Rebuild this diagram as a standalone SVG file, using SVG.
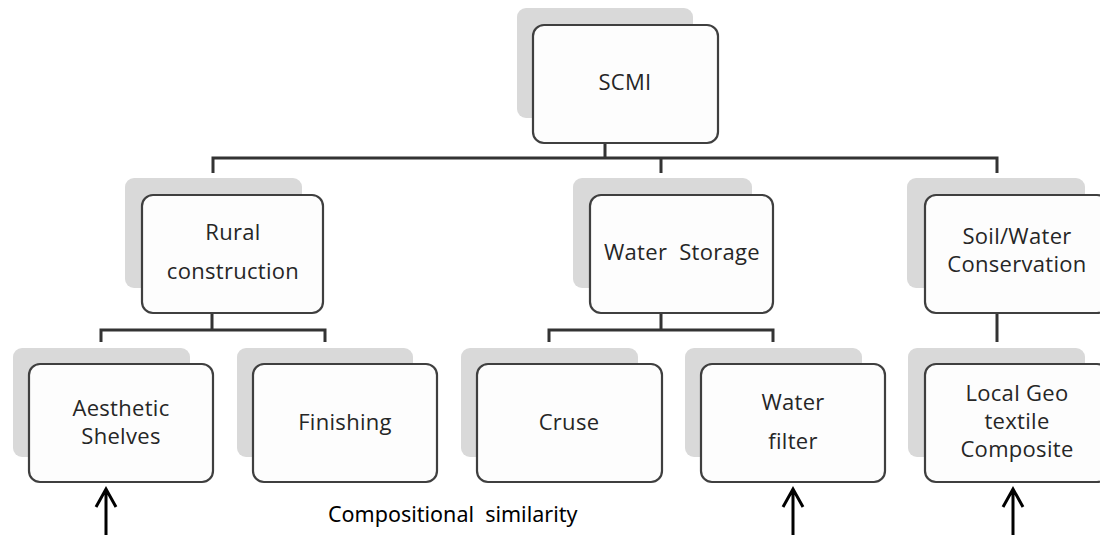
<svg xmlns="http://www.w3.org/2000/svg" width="1100" height="535" viewBox="0 0 1100 535">
<style>
.sh{fill:#d9d9d9}
.bx{fill:#fdfdfd;stroke:#3f3f3f;stroke-width:2.2}
.t{font-family:"Open Sans","Liberation Sans",sans-serif;font-size:22px;fill:#262626;text-anchor:middle;letter-spacing:0.3px}
.c{fill:none;stroke:#333;stroke-width:3}
.a{fill:none;stroke:#000;stroke-width:3}
.lbl{font-family:"Noto Sans","Liberation Sans",sans-serif;font-size:21.5px;fill:#000}
</style>
<rect width="1100" height="535" fill="#fff"/>
<g id="connectors">
<path class="c" d="M605 143V158M213 173V158H997V173M661 158V173"/>
<path class="c" d="M212 313V330M101 342V330H325V342"/>
<path class="c" d="M661 313V330M549 342V330H773V342"/>
<path class="c" d="M997 313V342"/>
</g>
<g id="scmi"><rect class="sh" x="517" y="8" width="176" height="110" rx="9"/><rect class="bx" x="533" y="25" width="185" height="118" rx="11"/><text class="t" x="625" y="90">SCMI</text></g>
<g id="rural"><rect class="sh" x="125" y="178" width="177" height="110" rx="9"/><rect class="bx" x="142" y="195" width="181" height="118" rx="11"/><text class="t" x="233" y="240">Rural</text><text class="t" x="233" y="279">construction</text></g>
<g id="water-storage"><rect class="sh" x="573" y="178" width="179" height="110" rx="9"/><rect class="bx" x="590" y="195" width="183" height="118" rx="11"/><text class="t" x="682" y="260" xml:space="preserve">Water  Storage</text></g>
<g id="soil-water"><rect class="sh" x="907" y="178" width="178" height="110" rx="9"/><rect class="bx" x="925" y="195" width="183" height="118" rx="11"/><text class="t" x="1017" y="244">Soil/Water</text><text class="t" x="1017" y="272">Conservation</text></g>
<g id="aesthetic"><rect class="sh" x="13" y="348" width="177" height="109" rx="9"/><rect class="bx" x="29" y="364" width="184" height="118" rx="11"/><text class="t" x="121" y="416">Aesthetic</text><text class="t" x="121" y="444">Shelves</text></g>
<g id="finishing"><rect class="sh" x="237" y="348" width="176" height="109" rx="9"/><rect class="bx" x="253" y="364" width="184" height="118" rx="11"/><text class="t" x="345" y="430">Finishing</text></g>
<g id="cruse"><rect class="sh" x="461" y="348" width="177" height="109" rx="9"/><rect class="bx" x="477" y="364" width="185" height="118" rx="11"/><text class="t" x="569" y="430">Cruse</text></g>
<g id="water-filter"><rect class="sh" x="685" y="348" width="177" height="109" rx="9"/><rect class="bx" x="701" y="364" width="184" height="118" rx="11"/><text class="t" x="793" y="410">Water</text><text class="t" x="793" y="449">filter</text></g>
<g id="local-geo"><rect class="sh" x="908" y="348" width="177" height="109" rx="9"/><rect class="bx" x="925" y="364" width="183" height="118" rx="11"/><text class="t" x="1017" y="401">Local Geo</text><text class="t" x="1017" y="429">textile</text><text class="t" x="1017" y="457">Composite</text></g>
<g id="arrows">
<path class="a" d="M106 540V489M96 507L106 489L116 507"/>
<path class="a" d="M793 540V489M783 507L793 489L803 507"/>
<path class="a" d="M1013 540V489M1003 507L1013 489L1023 507"/>
</g>
<text class="lbl" x="328" y="522" xml:space="preserve">Compositional  similarity</text>
</svg>
